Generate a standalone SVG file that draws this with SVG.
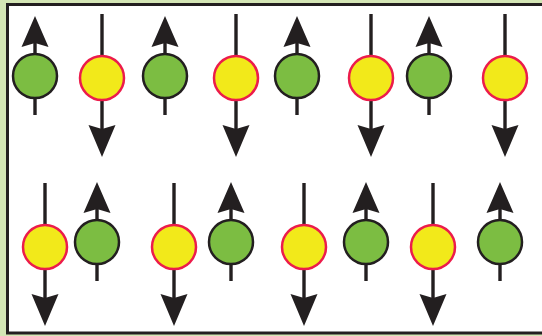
<svg xmlns="http://www.w3.org/2000/svg" xmlns:xlink="http://www.w3.org/1999/xlink" width="542" height="336" viewBox="0 0 542 336">
<style>
.ln{stroke:#231f20;stroke-width:3.4;fill:none}
.hd{fill:#231f20}
.g{fill:#7cbd42;stroke:#231f20;stroke-width:2.5}
.y{fill:#f2e91a;stroke:#ec1c4b;stroke-width:2.5}
</style>
<defs>
<g id="up">
<line class="ln" x1="0" y1="-35" x2="0" y2="39"/>
<path class="hd" d="M0,-60 L13.5,-29 L0,-33 L-13.5,-29 Z"/>
<circle class="g" cx="0" cy="0" r="22"/>
</g>
<g id="down">
<line class="ln" x1="0" y1="-64" x2="0" y2="52"/>
<path class="hd" d="M0,79 L13.5,47 L0,51 L-13.5,47 Z"/>
<circle class="y" cx="0" cy="0" r="22"/>
</g>
</defs>
<rect x="0" y="0" width="542" height="336" fill="#d4e6b5"/>
<rect x="7.5" y="4.5" width="540" height="328.5" fill="#ffffff" stroke="#231f20" stroke-width="3"/>
<g id="connectors"></g>
<g id="n1"><use xlink:href="#up" x="35" y="76"/></g>
<g id="n2"><use xlink:href="#down" x="102" y="78"/></g>
<g id="n3"><use xlink:href="#up" x="165" y="76"/></g>
<g id="n4"><use xlink:href="#down" x="236" y="78"/></g>
<g id="n5"><use xlink:href="#up" x="297" y="76"/></g>
<g id="n6"><use xlink:href="#down" x="371" y="78"/></g>
<g id="n7"><use xlink:href="#up" x="429" y="76"/></g>
<g id="n8"><use xlink:href="#down" x="505" y="78"/></g>
<g id="n9"><use xlink:href="#down" x="45" y="247"/></g>
<g id="n10"><use xlink:href="#up" x="97" y="242"/></g>
<g id="n11"><use xlink:href="#down" x="174" y="247"/></g>
<g id="n12"><use xlink:href="#up" x="231" y="242"/></g>
<g id="n13"><use xlink:href="#down" x="304" y="247"/></g>
<g id="n14"><use xlink:href="#up" x="366" y="242"/></g>
<g id="n15"><use xlink:href="#down" x="433" y="247"/></g>
<g id="n16"><use xlink:href="#up" x="500" y="242"/></g>
</svg>
